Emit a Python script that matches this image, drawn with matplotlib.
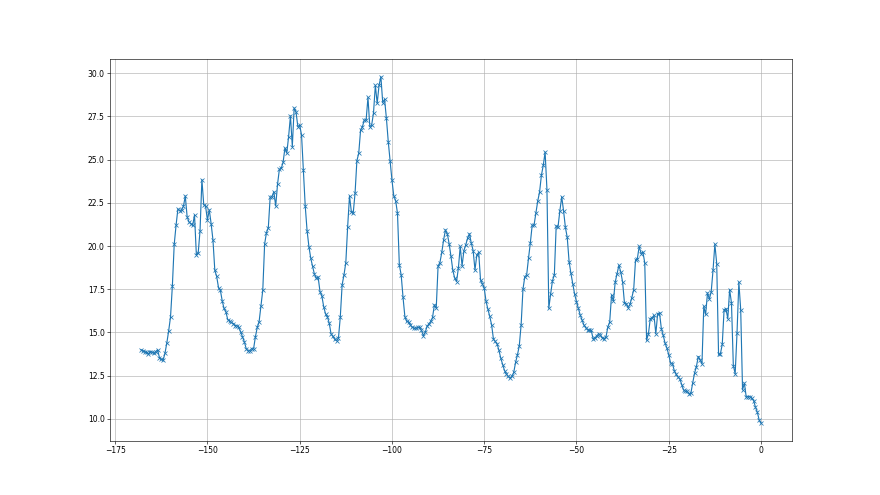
import numpy as np
import matplotlib.pyplot as plt

# readings every half hour over the last week (hours before now)
hours = np.arange(-168, 0.01, 0.5)

values = [
    14.0, 13.95, 13.9, 13.85, 13.75, 13.9, 13.85, 13.8, 13.9, 14.0,
    13.55, 13.45, 13.4, 13.8, 14.4, 15.1, 15.9, 17.7, 20.1, 21.2,
    22.15, 22.05, 22.1, 22.3, 22.9, 21.7, 21.4, 21.3, 21.2, 21.8,
    19.5, 19.6, 20.9, 23.85, 22.4, 22.3, 21.5, 22.1, 21.3, 20.35,
    18.6, 18.25, 17.6, 17.45, 16.84, 16.39, 16.2, 15.75, 15.66, 15.58,
    15.52, 15.4, 15.39, 15.29, 15.04, 14.75, 14.46, 14.07, 13.94, 13.94,
    14.07, 14.05, 14.75, 15.29, 15.62, 16.53, 17.45, 20.12, 20.78, 21.07,
    22.83, 22.86, 23.15, 22.32, 23.58, 24.45, 24.5, 24.84, 25.67, 25.38,
    26.34, 27.54, 25.76, 27.99, 27.77, 26.91, 27.0, 26.43, 24.4, 22.32,
    20.9, 19.97, 19.3, 18.82, 18.37, 18.14, 18.2, 17.37, 17.12, 16.5,
    16.08, 15.92, 15.54, 14.92, 14.77, 14.6, 14.52, 14.67, 15.89, 17.76,
    18.33, 19.05, 21.13, 22.9, 21.99, 21.9, 23.05, 24.94, 25.37, 26.71,
    26.91, 27.29, 27.29, 28.6, 26.91, 27.0, 27.7, 29.3, 28.26, 29.3,
    29.8, 28.3, 28.49, 27.39, 26.04, 24.94, 23.82, 22.9, 22.63, 21.9,
    18.91, 18.33, 17.04, 15.92, 15.64, 15.6, 15.44, 15.3, 15.25, 15.25,
    15.29, 15.29, 15.12, 14.81, 15.0, 15.35, 15.5, 15.64, 15.87, 16.6,
    16.41, 18.85, 19.05, 19.63, 20.36, 20.94, 20.71, 20.13, 19.4, 18.59,
    18.15, 17.95, 18.72, 19.98, 18.86, 19.74, 20.07, 20.46, 20.71, 20.17,
    19.74, 18.62, 19.49, 19.63, 18.05, 17.82, 17.57, 16.8, 16.35, 15.93,
    15.45, 14.62, 14.48, 14.33, 13.96, 13.5, 13.14, 12.8, 12.6, 12.46,
    12.35, 12.46, 12.69, 13.27, 13.7, 14.23, 15.44, 17.5, 18.23, 18.33,
    19.29, 20.19, 21.21, 21.21, 21.92, 22.6, 23.13, 24.1, 24.67, 25.44,
    23.27, 16.4, 17.23, 18.0, 18.33, 21.15, 21.12, 22.04, 22.85, 22.04,
    21.08, 20.5, 19.1, 18.42, 17.81, 17.21, 16.79, 16.4, 16.02, 15.73,
    15.44, 15.28, 15.15, 15.13, 15.12, 14.64, 14.7, 14.8, 14.93, 14.84,
    14.7, 14.64, 14.74, 15.32, 15.61, 17.15, 16.82, 17.92, 18.41, 18.89,
    18.5, 17.92, 16.71, 16.67, 16.44, 16.63, 17.02, 17.48, 19.18, 19.28,
    19.99, 19.57, 19.66, 19.03, 14.55, 14.93, 15.8, 15.86, 15.99, 14.93,
    16.09, 16.13, 15.22, 14.84, 14.39, 14.1, 13.71, 13.23, 13.19, 12.8,
    12.57, 12.42, 12.32, 11.99, 11.68, 11.6, 11.6, 11.45, 11.49, 12.09,
    12.65, 13.03, 13.61, 13.42, 13.19, 16.51, 16.05, 17.29, 16.94, 17.34,
    18.6, 20.11, 18.99, 13.73, 13.77, 14.31, 16.32, 16.38, 15.8, 17.48,
    16.71, 13.09, 12.61, 14.97, 17.92, 16.32, 11.68, 12.07, 11.26, 11.29,
    11.29, 11.2, 11.06, 10.68, 10.39, 9.94, 9.75,
]

plt.figure(figsize=(16, 9), dpi=55)
plt.plot(hours, values, marker='x', color='#1f77b4', linewidth=1.5)
plt.grid(True)
plt.savefig("out.png", dpi=55)
